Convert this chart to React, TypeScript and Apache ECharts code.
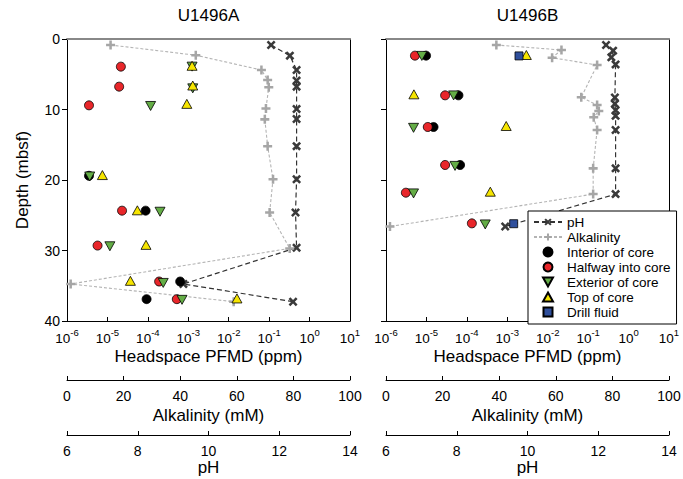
import React, { useEffect, useRef } from "react";
import * as echarts from "echarts";

// ---------- Data ----------
const siteNames = ["U1496A", "U1496B"];
const legendNames = ["pH", "Alkalinity", "Interior of core", "Halfway into core", "Exterior of core", "Top of core", "Drill fluid"];

// U1496A
const phDepthA = [0.85, 2.36, 4.4, 5.9, 6.76, 9.93, 11.35, 15.2, 19.9, 24.6, 29.6, 34.75, 37.26];
const phA = [11.77, 12.3, 12.49, 12.49, 12.49, 12.49, 12.49, 12.49, 12.49, 12.46, 12.49, 9.29, 12.39];
const alkDepthA = [0.85, 2.3, 4.4, 5.8, 6.85, 9.85, 11.4, 15.2, 19.9, 24.6, 29.7, 34.75, 37.26];
const alkA = [15.4, 45.5, 68.7, 70.9, 71.3, 70.3, 69.9, 70.9, 72.8, 71.6, 78.7, 1.3, 58.9];
const interiorDepthA = [19.4, 24.35, 34.4, 36.9];
const interiorA = [3.5e-6, 8.8e-5, 6.3e-4, 9.3e-5];
const halfwayDepthA = [3.92, 6.76, 9.41, 24.35, 29.3, 34.4, 36.9];
const halfwayA = [2.15e-5, 1.95e-5, 3.5e-6, 2.3e-5, 5.7e-6, 1.9e-4, 5.2e-4];
const exteriorDepthA = [3.92, 7.0, 9.5, 19.5, 24.5, 29.4, 34.6, 37.0];
const exteriorA = [1.24e-3, 1.29e-3, 1.17e-4, 3.65e-6, 2.0e-4, 1.15e-5, 2.4e-4, 7.0e-4];
const topDepthA = [3.8, 6.6, 9.2, 19.3, 24.3, 29.2, 34.3, 36.8];
const topA = [1.24e-3, 1.29e-3, 9.2e-4, 7.5e-6, 5.5e-5, 9.0e-5, 3.7e-5, 1.6e-2];
const drillDepthA: number[] = [];
const drillA: number[] = [];

// U1496B
const phDepthB = [0.85, 1.65, 2.6, 3.6, 8.3, 9.2, 10.1, 10.9, 12.9, 18.35, 22.0, 26.6];
const phB = [12.22, 12.42, 12.37, 12.49, 12.47, 12.47, 12.49, 12.49, 12.49, 12.49, 12.49, 9.37];
const alkDepthB = [0.85, 1.56, 2.65, 3.7, 8.27, 9.36, 10.2, 11.1, 12.9, 18.35, 22.0, 26.6];
const alkB = [39.0, 62.0, 58.7, 74.6, 69.0, 74.6, 75.2, 73.4, 74.6, 73.2, 73.2, 1.4];
const interiorDepthB = [2.36, 7.99, 12.48, 17.87];
const interiorB = [9.8e-6, 6.2e-5, 1.5e-5, 6.8e-5];
const halfwayDepthB = [2.36, 7.99, 12.48, 17.87, 21.8, 26.15];
const halfwayB = [5.2e-6, 2.9e-5, 1.08e-5, 2.9e-5, 3.1e-6, 1.33e-4];
const exteriorDepthB = [2.4, 8.0, 12.6, 18.0, 21.9, 26.3];
const exteriorB = [7.7e-6, 4.7e-5, 4.8e-6, 5.1e-5, 4.8e-6, 2.85e-4];
const topDepthB = [2.27, 7.85, 12.34, 21.66];
const topB = [2.96e-3, 4.9e-6, 9.4e-4, 3.8e-4];
const drillDepthB = [2.4, 26.2];
const drillB = [1.95e-3, 1.44e-3];

const sites = [
  {
    ph: [phA, phDepthA], alk: [alkA, alkDepthA],
    interior: [interiorA, interiorDepthA], halfway: [halfwayA, halfwayDepthA],
    exterior: [exteriorA, exteriorDepthA], top: [topA, topDepthA], drill: [drillA, drillDepthA],
  },
  {
    ph: [phB, phDepthB], alk: [alkB, alkDepthB],
    interior: [interiorB, interiorDepthB], halfway: [halfwayB, halfwayDepthB],
    exterior: [exteriorB, exteriorDepthB], top: [topB, topDepthB], drill: [drillB, drillDepthB],
  },
];

// ---------- Styling ----------
const FONT = "Liberation Sans, Arial, Helvetica, sans-serif";
const GRID_LEFT = [67, 386];
const GRID_TOP = 39;
const GRID_W = 283;
const GRID_H = 282;

const X_SYMBOL = "path://M2,0 L5,3 L8,0 L10,2 L7,5 L10,8 L8,10 L5,7 L2,10 L0,8 L3,5 L0,2 Z";
const PLUS_SYMBOL = "path://M3.6,0 H6.4 V3.6 H10 V6.4 H6.4 V10 H3.6 V6.4 H0 V3.6 H3.6 Z";
const TRI_UP = "path://M5,0 L10,9 L0,9 Z";
const TRI_DOWN = "path://M0,0 L10,0 L5,9 Z";
const SQUARE = "path://M0,0 H10 V10 H0 Z";

const pairs = (xs: number[], ys: number[]) => xs.map((x, i) => [x, ys[i]]);

function buildOption() {
  const grids: any[] = [];
  const xAxes: any[] = [];
  const yAxes: any[] = [];
  const series: any[] = [];

  const nameStyle = { fontSize: 17, color: "#000", fontFamily: FONT };
  const labelStyle = { fontSize: 14, color: "#000", fontFamily: FONT };

  sites.forEach((s, i) => {
    grids.push({ left: GRID_LEFT[i], top: GRID_TOP, width: GRID_W, height: GRID_H, outerBoundsMode: "none", containLabel: false });
    const xb = i * 4;
    const yb = i * 2;
    // log PFMD axis
    xAxes.push({
      gridIndex: i, type: "log", logBase: 10, min: 1e-6, max: 10, splitNumber: 7, position: "bottom",
      name: "Headspace PFMD (ppm)", nameLocation: "middle", nameGap: 27, nameMoveOverlap: false, nameTextStyle: nameStyle,
      axisLine: { show: true, onZero: false, lineStyle: { color: "#000", width: 1 } },
      axisTick: { show: true, inside: true, length: 4, lineStyle: { color: "#000" } },
      minorTick: { show: false }, splitLine: { show: false },
      axisLabel: {
        margin: 6,
        formatter: (v: number) => `{b|10}{s|${Math.round(Math.log10(v))}}`,
        rich: {
          b: { fontSize: 13.5, fontFamily: FONT, color: "#000", lineHeight: 18, verticalAlign: "bottom" },
          s: { fontSize: 9.5, fontFamily: FONT, color: "#000", lineHeight: 10, verticalAlign: "top" },
        },
      },
    });
    // alkalinity axis
    xAxes.push({
      gridIndex: i, type: "value", min: 0, max: 100, interval: 20, position: "bottom", offset: 59,
      name: "Alkalinity (mM)", nameLocation: "middle", nameGap: 27, nameMoveOverlap: false, nameTextStyle: nameStyle,
      axisLine: { show: true, onZero: false, lineStyle: { color: "#000", width: 1 } },
      axisTick: { show: true, inside: true, length: 4, lineStyle: { color: "#000" } },
      splitLine: { show: false },
      axisLabel: { ...labelStyle, margin: 9 },
    });
    // pH axis
    xAxes.push({
      gridIndex: i, type: "value", min: 6, max: 14, interval: 2, position: "bottom", offset: 114,
      name: "pH", nameLocation: "middle", nameGap: 24, nameMoveOverlap: false, nameTextStyle: nameStyle,
      axisLine: { show: true, onZero: false, lineStyle: { color: "#000", width: 1 } },
      axisTick: { show: true, inside: true, length: 4, lineStyle: { color: "#000" } },
      splitLine: { show: false },
      axisLabel: { ...labelStyle, margin: 9 },
    });
    // top frame
    xAxes.push({
      gridIndex: i, type: "value", min: 0, max: 1, position: "top",
      axisLine: { show: true, onZero: false, lineStyle: { color: "#888", width: 2 } },
      axisTick: { show: false }, axisLabel: { show: false }, splitLine: { show: false },
    });
    // depth axis
    yAxes.push({
      gridIndex: i, type: "value", min: 0, max: 40, interval: 10, inverse: true, position: "left",
      name: i === 0 ? "Depth (mbsf)" : "", nameLocation: "middle", nameGap: 36, nameMoveOverlap: false, nameTextStyle: nameStyle,
      axisLine: { show: true, onZero: false, lineStyle: { color: "#000", width: 1 } },
      axisTick: { show: true, inside: false, length: 5, lineStyle: { color: "#000" } },
      splitLine: { show: false },
      axisLabel: { show: i === 0, ...labelStyle, margin: 7 },
    });
    // right frame
    yAxes.push({
      gridIndex: i, type: "value", min: 0, max: 40, inverse: true, position: "right",
      axisLine: { show: true, onZero: false, lineStyle: { color: "#000", width: 1 } },
      axisTick: { show: false }, axisLabel: { show: false }, splitLine: { show: false },
    });

    series.push({
      name: "pH", type: "line", xAxisIndex: xb + 2, yAxisIndex: yb,
      data: pairs(s.ph[0], s.ph[1]),
      symbol: X_SYMBOL, symbolSize: 9, showSymbol: true,
      itemStyle: { color: "#3a3a3a" },
      lineStyle: { color: "#333", width: 1.2, type: [5, 3] },
      z: 2,
    });
    series.push({
      name: "Alkalinity", type: "line", xAxisIndex: xb + 1, yAxisIndex: yb,
      data: pairs(s.alk[0], s.alk[1]),
      symbol: PLUS_SYMBOL, symbolSize: 9, showSymbol: true,
      itemStyle: { color: "#a6a6a6" },
      lineStyle: { color: "#b4b4b4", width: 1.1, type: [3, 2] },
      z: 2,
    });
    const scat = (name: string, d: number[][], symbol: string, color: string, size: any) => ({
      name, type: "scatter", xAxisIndex: xb, yAxisIndex: yb,
      data: pairs(d[0], d[1]), symbol, symbolSize: size,
      itemStyle: { color, borderColor: "#000", borderWidth: 0.8, opacity: 1 },
      z: 3,
    });
    series.push(scat("Interior of core", s.interior, "circle", "#000000", 9));
    series.push(scat("Halfway into core", s.halfway, "circle", "#e8262a", 9));
    series.push(scat("Exterior of core", s.exterior, TRI_DOWN, "#64ad46", [10, 9]));
    series.push(scat("Top of core", s.top, TRI_UP, "#f6e500", [10, 9]));
    series.push(scat("Drill fluid", s.drill, SQUARE, "#2f4f9c", 8));
  });

  const graphic = siteNames.map((t, i) => ({
    type: "text",
    x: GRID_LEFT[i] + GRID_W / 2,
    y: 15,
    style: { text: t, fill: "#000", font: `17px ${FONT}`, align: "center", verticalAlign: "middle" },
  }));

  return {
    animation: false,
    backgroundColor: "#fff",
    grid: grids,
    xAxis: xAxes,
    yAxis: yAxes,
    series,
    graphic,
    legend: {
      data: legendNames,
      orient: "vertical",
      left: 528,
      top: 211,
      padding: [4, 6, 5, 5],
      itemGap: 1,
      itemWidth: 28,
      itemHeight: 9,
      symbolKeepAspect: true,
      backgroundColor: "#fff",
      borderColor: "#000",
      borderWidth: 1,
      borderRadius: 0,
      selectedMode: false,
      textStyle: { fontSize: 13.5, lineHeight: 13, color: "#000", fontFamily: FONT },
    },
  };
}

export default function App() {
  const ref = useRef<HTMLDivElement>(null);
  useEffect(() => {
    document.body.style.margin = "0";
    if (!ref.current) return;
    const chart = echarts.init(ref.current, undefined, { renderer: "svg" });
    chart.setOption(buildOption() as any);
    return () => chart.dispose();
  }, []);
  return <div ref={ref} style={{ width: 683, height: 479 }} />;
}
